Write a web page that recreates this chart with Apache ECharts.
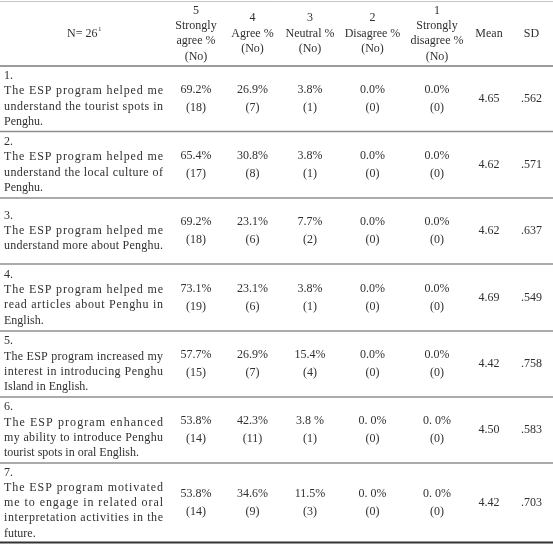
<!DOCTYPE html>
<html><head><meta charset="utf-8">
<script src="https://cdn.jsdelivr.net/npm/echarts@6/dist/echarts.min.js"></script>
<style>html,body{margin:0;padding:0;background:#fff}#c{width:553px;height:545px}</style>
</head><body><div id="c"></div>
<script>
// ---- table content ----
const headerLabels = [
  ["5", "Strongly", "agree %", "(No)"],
  ["4", "Agree %", "(No)"],
  ["3", "Neutral %", "(No)"],
  ["2", "Disagree %", "(No)"],
  ["1", "Strongly", "disagree %", "(No)"],
  ["Mean"],
  ["SD"]
];
const sampleLabel = "N= 26";
const sampleNote = "1";
const itemNumbers = ["1.", "2.", "3.", "4.", "5.", "6.", "7."];
const statements = [
  ["The ESP program helped me", "understand the tourist spots in", "Penghu."],
  ["The ESP program helped me", "understand the local culture of", "Penghu."],
  ["The ESP program helped me", "understand more about Penghu."],
  ["The ESP program helped me", "read articles about Penghu in", "English."],
  ["The ESP program increased my", "interest in introducing Penghu", "Island in English."],
  ["The ESP program enhanced", "my ability to introduce Penghu", "tourist spots in oral English."],
  ["The ESP program motivated", "me to engage in related oral", "interpretation activities in the", "future."]
];
const strongAgreePct = ["69.2%", "65.4%", "69.2%", "73.1%", "57.7%", "53.8%", "53.8%"];
const strongAgreeN   = [18, 17, 18, 19, 15, 14, 14];
const agreePct       = ["26.9%", "30.8%", "23.1%", "23.1%", "26.9%", "42.3%", "34.6%"];
const agreeN         = [7, 8, 6, 6, 7, 11, 9];
const neutralPct     = ["3.8%", "3.8%", "7.7%", "3.8%", "15.4%", "3.8 %", "11.5%"];
const neutralN       = [1, 1, 2, 1, 4, 1, 3];
const disagreePct    = ["0.0%", "0.0%", "0.0%", "0.0%", "0.0%", "0. 0%", "0. 0%"];
const disagreeN      = [0, 0, 0, 0, 0, 0, 0];
const strongDisPct   = ["0.0%", "0.0%", "0.0%", "0.0%", "0.0%", "0. 0%", "0. 0%"];
const strongDisN     = [0, 0, 0, 0, 0, 0, 0];
const means          = ["4.65", "4.62", "4.62", "4.69", "4.42", "4.50", "4.42"];
const sds            = [".562", ".571", ".637", ".549", ".758", ".583", ".703"];

// ---- layout (widths / heights in axis units) ----
const colWidths = [168, 56, 57, 58, 67, 62, 42, 43];
const rowHeights = [65, 65.5, 66.5, 66, 67, 66, 66, 80];
const totalW = colWidths.reduce((a, b) => a + b, 0);
const totalH = rowHeights.reduce((a, b) => a + b, 0);
const colStart = []; { let s = 0; colWidths.forEach(w => { colStart.push(s); s += w; }); }
const colCenter = colWidths.map((w, i) => colStart[i] + w / 2);

const FONT_FAMILY = '"Liberation Serif", "Times New Roman", serif';
const FS = 12;
const FONT = FS + 'px ' + FONT_FAMILY;
const TXT = '#303030';
const LH = 15.3;

const mctx = document.createElement('canvas').getContext('2d');
function measure(t, font) { mctx.font = font || FONT; return mctx.measureText(t).width; }

function txt(text, x, y, align, font) {
  return { type: 'text', silent: true, style: {
    text: text, x: x, y: y, align: align || 'center', verticalAlign: 'middle',
    textAlign: align || 'center', textVerticalAlign: 'middle',
    font: font || FONT, fill: TXT } };
}

// justified line: distribute the extra room over character gaps
function justifiedLine(line, left, right, y, out) {
  const n = line.length;
  const natural = measure(line);
  const gap = n > 1 ? (right - left - natural) / (n - 1) : 0;
  for (let i = 0; i < n; i++) {
    const ch = line[i];
    if (ch === ' ') continue;
    const x = left + measure(line.slice(0, i)) + i * gap;
    out.push(txt(ch, x, y, 'left'));
  }
}

// rows data: [rowIndex, yStart, yEnd]
const rowData = []; { let s = 0; rowHeights.forEach((h, i) => { rowData.push([i, s, s + h]); s += h; }); }

const statCols = [
  [strongAgreePct, strongAgreeN],
  [agreePct, agreeN],
  [neutralPct, neutralN],
  [disagreePct, disagreeN],
  [strongDisPct, strongDisN]
];

function renderItem(params, api) {
  const r = api.value(0);
  const y0 = api.coord([0, api.value(1)])[1];
  const y1 = api.coord([0, api.value(2)])[1];
  const cy = (y0 + y1) / 2;
  const X = v => api.coord([v, 0])[0];
  const xL = X(0), xR = X(totalW);
  const out = [];

  if (r === 0) {
    out.push({ type: 'line', silent: true, shape: { x1: xL, y1: y0 + 0.5, x2: xR, y2: y0 + 0.5 },
      style: { stroke: '#c4c4c4', lineWidth: 1 } });
    const supFont = '7px ' + FONT_FAMILY;
    const w1 = measure(sampleLabel), w2 = measure(sampleNote, supFont);
    const sx = X(colCenter[0]) - (w1 + w2) / 2;
    out.push(txt(sampleLabel, sx, cy, 'left'));
    out.push(txt(sampleNote, sx + w1 + 0.5, cy - 4, 'left', supFont));
    headerLabels.forEach((lines, k) => {
      const cx = X(colCenter[k + 1]);
      const top = cy - (lines.length - 1) * LH / 2;
      lines.forEach((l, j) => out.push(txt(l, cx, top + j * LH)));
    });
    out.push({ type: 'line', silent: true, shape: { x1: xL, y1: y1, x2: xR, y2: y1 },
      style: { stroke: '#7a7a7a', lineWidth: 1.6 } });
  } else {
    const i = r - 1;
    const lines = [itemNumbers[i]].concat(statements[i]);
    const top = cy - (lines.length - 1) * LH / 2;
    const left = X(colStart[0] + 4), right = X(colStart[0] + colWidths[0] - 5);
    lines.forEach((l, j) => {
      const y = top + j * LH;
      const nearlyFull = measure(l) > 0.93 * (right - left);
      const justify = j > 0 && (j < lines.length - 1 || nearlyFull);
      if (justify) justifiedLine(l, left, right, y, out);
      else out.push(txt(l, left, y, 'left'));
    });
    statCols.forEach((c, k) => {
      const cx = X(colCenter[k + 1]);
      out.push(txt(c[0][i], cx, cy - 9));
      out.push(txt('(' + c[1][i] + ')', cx, cy + 9));
    });
    out.push(txt(means[i], X(colCenter[6]), cy));
    out.push(txt(sds[i], X(colCenter[7]), cy));
    const last = r === rowHeights.length - 1;
    out.push({ type: 'line', silent: true,
      shape: { x1: xL, y1: last ? y1 - 0.5 : y1, x2: xR, y2: last ? y1 - 0.5 : y1 },
      style: { stroke: last ? '#333333' : '#8f8f8f', lineWidth: last ? 2.2 : 1.5 } });
  }
  return { type: 'group', children: out };
}

const chart = echarts.init(document.getElementById('c'), null, { renderer: 'canvas' });
chart.setOption({
  animation: false,
  backgroundColor: '#ffffff',
  grid: { left: 0, right: 0, top: 1, height: totalH },
  xAxis: { type: 'value', min: 0, max: totalW, show: false },
  yAxis: { type: 'value', min: 0, max: totalH, inverse: true, show: false },
  series: [{
    type: 'custom',
    renderItem: renderItem,
    encode: { x: -1, y: [1, 2] },
    data: rowData,
    clip: false
  }]
});
</script>
</body></html>
